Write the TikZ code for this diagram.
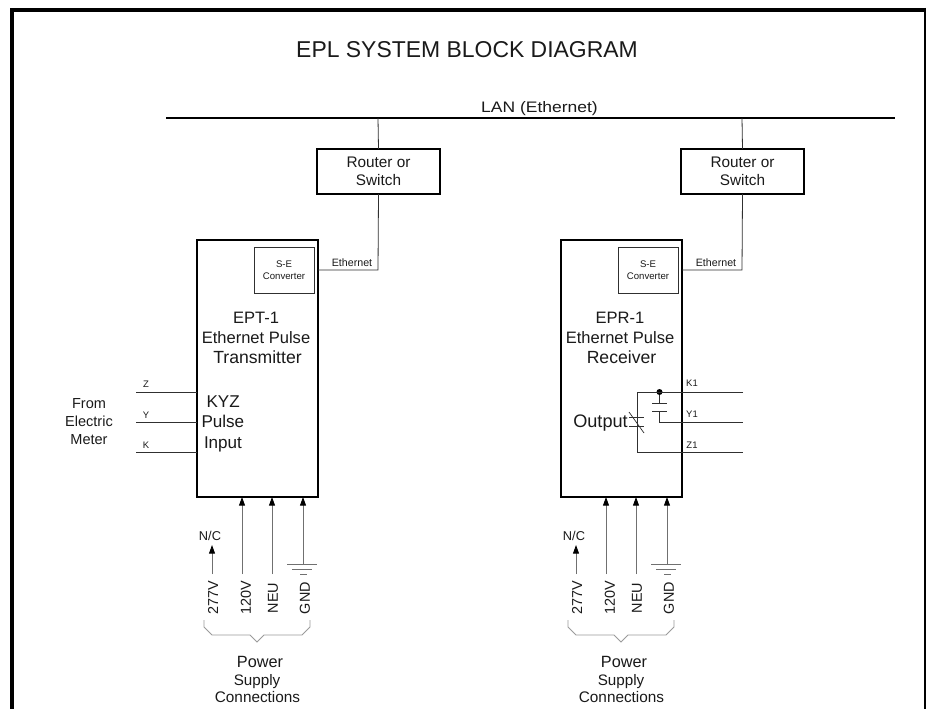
\documentclass[tikz,border=0pt]{standalone}
\usepackage{fontspec}
\setmainfont{Liberation Sans}
\usetikzlibrary{arrows.meta}
\definecolor{ink}{HTML}{1A1A1A}
\definecolor{wire}{HTML}{303030}
\definecolor{soft}{HTML}{707070}
\newcommand{\fs}[1]{\fontsize{#1}{#1}\selectfont}
\tikzset{
  x=0.75pt,y=-0.75pt,
  every node/.style={inner sep=0pt,outer sep=0pt,text=ink,font=\fs{10.5},align=center},
  heavy/.style={draw=black,line width=1.1pt},
  thin wire/.style={draw=wire,line width=0.6pt},
  lan wire/.style={draw=black,line width=1.1pt},
  feed/.style={draw=soft,line width=0.7pt,-{Triangle[length=6.5pt,width=4.5pt,color=black]}},
  plain feed/.style={draw=soft,line width=0.7pt},
  contact/.style={draw=wire,line width=0.55pt},
  brace line/.style={draw=soft!70,line width=0.6pt},
  pt label/.style={font=\fs{7.1}},
  small/.style={font=\fs{8}},
  volt/.style={font=\fs{10.8},rotate=90},
  baseline text/.style={anchor=base},
  inlabel/.style={anchor=base west,font=\fs{12.8}},
}
\begin{document}
\begin{tikzpicture}
\useasboundingbox (0,0) rectangle (927,709);
\fill[white] (0,0) rectangle (927,709);
% frame
\draw[black,line width=3pt] (11.5,709) -- (11.5,10) -- (925,10);
\draw[black,line width=1.5pt] (925,8) -- (925,709);
% title and LAN
\node[baseline text,font=\fs{17.2}] (title) at (467,58) {EPL SYSTEM BLOCK DIAGRAM};
\node[baseline text,font=\fs{11.4}] (lanlabel) at (539.5,113) {\scalebox{1.15}[1]{LAN (Ethernet)}};
\coordinate (lanL) at (166,118);
\coordinate (lanR) at (895,118);
\draw[lan wire] (lanL) -- (lanR);
% the two identical channels
\foreach \p/\d/\nm/\kind in {a/0/EPT-1/Transmitter, b/364/EPR-1/Receiver}{
  \begin{scope}[shift={(\d,0)}]
    \coordinate (\p tap) at (378,118);
    \node[heavy,minimum width=92.25pt,minimum height=33.75pt,font=\fs{11.5}] (\p router) at (378.5,171.5) {Router or\\[1.6pt]Switch};
    \node[heavy,minimum width=90.75pt,minimum height=192.75pt,anchor=north west] (\p box) at (197,240) {};
    \node[draw=wire,line width=0.7pt,minimum width=45pt,minimum height=34.5pt,font=\fs{7.2}] (\p conv) at (284,270) {S-E\\[1.5pt]Converter};
    \node[small] (\p eth) at (352,263) {Ethernet};
    \node[baseline text,font=\fs{12.4}] (\p name) at (256,323) {\nm};
    \node[baseline text,font=\fs{12.4}] (\p type) at (256,343) {Ethernet Pulse};
    \node[baseline text,font=\fs{13.2}] (\p kind) at (257.5,363) {\kind};
    \coordinate (\p bend) at (378,270);
    \draw[thin wire] (\p tap) -- (\p router.north);
    \draw[thin wire] (\p router.south) -- (\p bend) -- (\p box.east |- \p bend);
    % power feeds
    \coordinate (\p x120) at (242,574);
    \coordinate (\p neu) at (272,574);
    \coordinate (\p gnd) at (303,564);
    \coordinate (\p ns) at (212,574);
    \coordinate (\p ne) at (212,545);
    \draw[feed] (\p x120) -- (\p x120 |- \p box.south);
    \draw[feed] (\p neu) -- (\p neu |- \p box.south);
    \draw[feed] (\p gnd) -- (\p gnd |- \p box.south);
    \draw[feed] (\p ns) -- (\p ne);
    \draw[plain feed] (287,564) -- (317,564);
    \draw[plain feed] (292,569.5) -- (312,569.5);
    \draw[plain feed] (300,574.5) -- (307,574.5);
    \node[font=\fs{9.6}] (\p nc) at (210,536) {N/C};
    \node[volt] (\p l277) at (213,598) {277V};
    \node[volt] (\p l120) at (246,598) {120V};
    \node[volt] (\p lneu) at (273,598) {NEU};
    \node[volt] (\p lgnd) at (305,598) {GND};
    \draw[brace line] (204,620) -- (204,627) -- (212,635) -- (250,635) -- (257,642) -- (264,635) -- (302,635) -- (310,627) -- (310,620);
    \node[baseline text,font=\fs{12.2}] (\p power) at (260,667) {Power};
    \node[baseline text,font=\fs{11.4}] (\p supply) at (257,685) {Supply};
    \node[baseline text,font=\fs{11.5}] (\p conn) at (257.5,702) {Connections};
  \end{scope}
}
% EPT-1 input
\coordinate (zL) at (136,392);
\coordinate (yL) at (136,422);
\coordinate (kL) at (136,452);
\draw[thin wire] (zL) -- (zL -| abox.west);
\draw[thin wire] (yL) -- (yL -| abox.west);
\draw[thin wire] (kL) -- (kL -| abox.west);
\node[pt label] (zlab) at (146,384) {Z};
\node[pt label] (ylab) at (146,415) {Y};
\node[pt label] (klab) at (146,445) {K};
\node[font=\fs{10.9}] (from) at (89,403.5) {From};
\node[font=\fs{10.9}] (elec) at (89,421.5) {Electric};
\node[font=\fs{10.9}] (meter) at (89,440) {Meter};
\node[inlabel] (kyz) at (206.5,407) {KYZ};
\node[inlabel] (pulse) at (201.5,427) {Pulse};
\node[inlabel] (inp) at (204,448) {Input};
% EPR-1 output
\coordinate (k1R) at (743,392);
\coordinate (y1R) at (743,422);
\coordinate (z1R) at (743,452);
\coordinate (k1S) at (637,392);
\coordinate (z1S) at (637,452);
\coordinate (y1S) at (659.5,422);
\node[circle,fill=black,minimum size=4.5pt] (dot) at (659.5,392) {};
\coordinate (noT) at (659.5,403);
\coordinate (noB) at (659.5,411);
\draw[thin wire] (k1R) -- (k1S) -- (z1S) -- (z1R);
\draw[thin wire] (dot) -- (noT);
\draw[thin wire] (noB) -- (y1S) -- (y1R);
\draw[contact] (652,403) -- (667,403);
\draw[contact] (652,411) -- (667,411);
\draw[contact] (629,417) -- (644,417);
\draw[contact] (629,426) -- (644,426);
\draw[contact] (629,412) -- (644,433);
\node[pt label] (k1lab) at (692,383) {K1};
\node[pt label] (y1lab) at (692,414) {Y1};
\node[pt label] (z1lab) at (692,445) {Z1};
\node[baseline text,font=\fs{13.6}] (output) at (600.5,427) {Output};
\end{tikzpicture}
\end{document}
